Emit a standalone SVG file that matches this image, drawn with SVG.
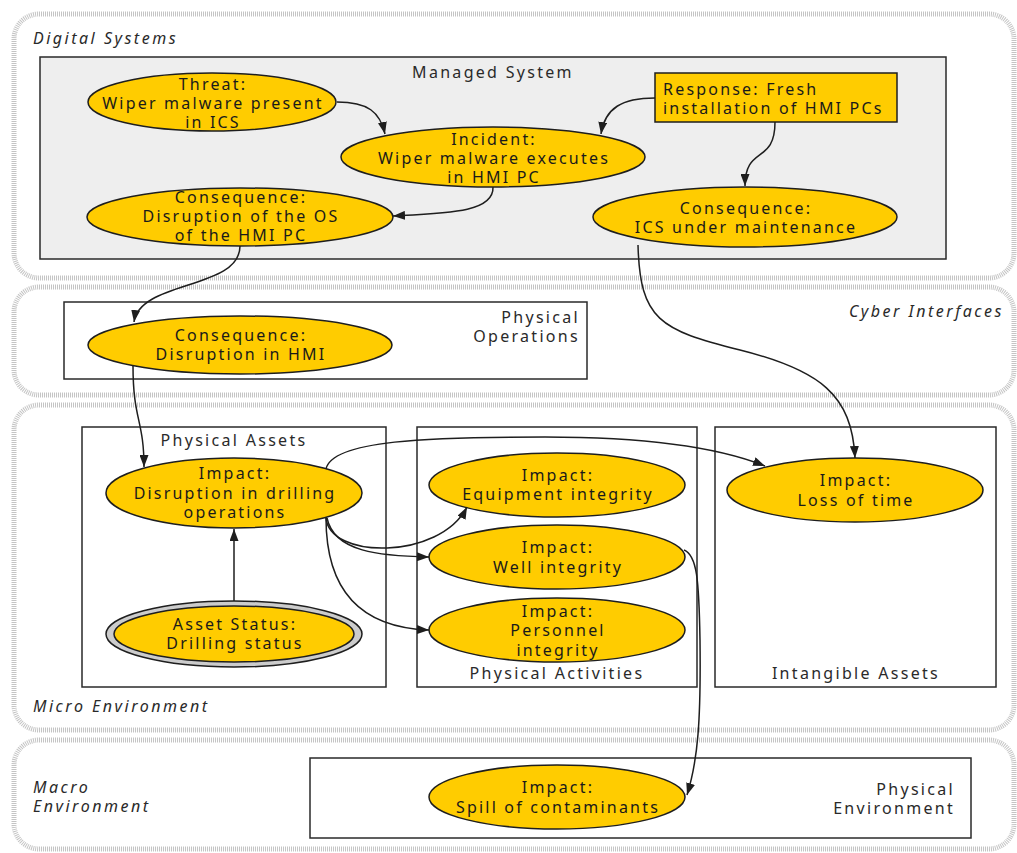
<svg xmlns="http://www.w3.org/2000/svg" width="1017" height="853" viewBox="0 0 1017 853">
<defs>
<marker id="ah" viewBox="0 0 12 9" refX="12" refY="4.5" markerWidth="12" markerHeight="9" markerUnits="userSpaceOnUse" orient="auto">
<path d="M0,0 L12,4.5 L0,9 z" fill="#1e1e1e"/>
</marker>
<style>
.layer{fill:none;stroke:#c4c4c4;stroke-width:5;stroke-dasharray:1 1}
.ll{font-family:"Noto Sans","DejaVu Sans",sans-serif;font-size:16px;font-style:italic;letter-spacing:2.5px;fill:#2a2a2a}
.box{fill:#ffffff;stroke:#2a2a2a;stroke-width:1.5}
.mbox{fill:#eeeeee;stroke:#2a2a2a;stroke-width:1.5}
.bl{font-family:"Noto Sans","DejaVu Sans",sans-serif;font-size:16px;letter-spacing:2.3px;fill:#2a2a2a}
.n{fill:#ffcc00;stroke:#1e1e1e;stroke-width:1.5}
.t{font-family:"Noto Sans","DejaVu Sans",sans-serif;font-size:16px;letter-spacing:2.2px;fill:#1a1a1a;text-anchor:middle}
.ts{font-family:"Noto Sans","DejaVu Sans",sans-serif;font-size:16px;letter-spacing:2.2px;fill:#1a1a1a}
.e{fill:none;stroke:#1e1e1e;stroke-width:1.5;marker-end:url(#ah)}
</style>
</defs>
<rect width="1017" height="853" fill="#ffffff"/>
<g id="layers">
<rect class="layer" x="14" y="14" width="1000" height="264" rx="25"/>
<rect class="layer" x="14" y="287" width="1000" height="108" rx="25"/>
<rect class="layer" x="14" y="405" width="1000" height="325" rx="25"/>
<rect class="layer" x="14" y="740" width="1000" height="109" rx="25"/>
<text class="ll" x="33" y="44">Digital Systems</text>
<text class="ll" x="1004" y="317" text-anchor="end">Cyber Interfaces</text>
<text class="ll" x="33" y="712">Micro Environment</text>
<text class="ll" x="33" y="793">Macro</text>
<text class="ll" x="33" y="812">Environment</text>
</g>
<g id="managed-system">
<rect class="mbox" x="40" y="57" width="906" height="202"/>
<text class="bl" x="493" y="78" text-anchor="middle">Managed System</text>
</g>
<g id="physical-operations">
<rect class="box" x="64" y="302" width="523" height="77"/>
<text class="bl" x="580" y="323" text-anchor="end">Physical</text>
<text class="bl" x="580" y="342" text-anchor="end">Operations</text>
</g>
<g id="physical-assets">
<rect class="box" x="82" y="427" width="304" height="260"/>
<text class="bl" x="234" y="446" text-anchor="middle">Physical Assets</text>
</g>
<g id="physical-activities">
<rect class="box" x="417" y="427" width="280" height="260"/>
<text class="bl" x="557" y="679" text-anchor="middle">Physical Activities</text>
</g>
<g id="intangible-assets">
<rect class="box" x="715" y="427" width="281" height="260"/>
<text class="bl" x="856" y="679" text-anchor="middle">Intangible Assets</text>
</g>
<g id="physical-environment">
<rect class="box" x="310" y="758" width="661" height="80"/>
<text class="bl" x="955" y="795" text-anchor="end">Physical</text>
<text class="bl" x="955" y="814" text-anchor="end">Environment</text>
</g>
<g id="threat">
<ellipse class="n" cx="212" cy="102" rx="124" ry="29"/>
<text class="t" x="213" y="90">Threat:</text>
<text class="t" x="213" y="109">Wiper malware present</text>
<text class="t" x="213" y="128">in ICS</text>
</g>
<g id="incident">
<ellipse class="n" cx="493" cy="157" rx="152" ry="30"/>
<text class="t" x="494" y="145">Incident:</text>
<text class="t" x="494" y="164">Wiper malware executes</text>
<text class="t" x="494" y="183">in HMI PC</text>
</g>
<g id="response">
<rect class="n" x="655" y="73" width="242" height="49"/>
<text class="ts" x="663" y="95">Response: Fresh</text>
<text class="ts" x="663" y="114">installation of HMI PCs</text>
</g>
<g id="consequence-os">
<ellipse class="n" cx="240" cy="217" rx="153" ry="29"/>
<text class="t" x="241" y="203">Consequence:</text>
<text class="t" x="241" y="222">Disruption of the OS</text>
<text class="t" x="241" y="241">of the HMI PC</text>
</g>
<g id="consequence-ics">
<ellipse class="n" cx="745" cy="217" rx="152" ry="30"/>
<text class="t" x="746" y="214">Consequence:</text>
<text class="t" x="746" y="233">ICS under maintenance</text>
</g>
<g id="consequence-hmi">
<ellipse class="n" cx="240" cy="345" rx="152" ry="29"/>
<text class="t" x="241" y="341">Consequence:</text>
<text class="t" x="241" y="360">Disruption in HMI</text>
</g>
<g id="impact-drilling">
<ellipse class="n" cx="234" cy="493" rx="128" ry="35"/>
<text class="t" x="235" y="479">Impact:</text>
<text class="t" x="235" y="499">Disruption in drilling</text>
<text class="t" x="235" y="518">operations</text>
</g>
<g id="asset-status">
<ellipse cx="234" cy="634" rx="128" ry="33" fill="#cccccc" stroke="#1e1e1e" stroke-width="1.5"/>
<ellipse class="n" cx="234" cy="634" rx="120" ry="28"/>
<text class="t" x="235" y="630">Asset Status:</text>
<text class="t" x="235" y="649">Drilling status</text>
</g>
<g id="impact-equipment">
<ellipse class="n" cx="557" cy="485" rx="128" ry="32"/>
<text class="t" x="558" y="481">Impact:</text>
<text class="t" x="558" y="500">Equipment integrity</text>
</g>
<g id="impact-well">
<ellipse class="n" cx="557" cy="557" rx="128" ry="32"/>
<text class="t" x="558" y="553">Impact:</text>
<text class="t" x="558" y="573">Well integrity</text>
</g>
<g id="impact-personnel">
<ellipse class="n" cx="557" cy="630" rx="128" ry="32"/>
<text class="t" x="558" y="617">Impact:</text>
<text class="t" x="558" y="636">Personnel</text>
<text class="t" x="558" y="656">integrity</text>
</g>
<g id="impact-time">
<ellipse class="n" cx="855" cy="490" rx="128" ry="32"/>
<text class="t" x="856" y="486">Impact:</text>
<text class="t" x="856" y="506">Loss of time</text>
</g>
<g id="impact-spill">
<ellipse class="n" cx="557" cy="797" rx="128" ry="32"/>
<text class="t" x="558" y="793">Impact:</text>
<text class="t" x="558" y="813">Spill of contaminants</text>
</g>
<g id="connectors">
<path class="e" d="M337,102 C368,102 380,112 385,134"/>
<path class="e" d="M655,98 C622,98 605,108 601,134"/>
<path class="e" d="M493,187 C494,212 450,213 393,216"/>
<path class="e" d="M775,122 C775,165 745,145 745,186"/>
<path class="e" d="M240,246 C240,290 140,280 134,322"/>
<path class="e" d="M133,366 C133,420 144,420 144,467"/>
<path class="e" d="M638,245 C640,320 660,330 740,350 C820,370 852,395 855,458"/>
<path class="e" d="M326,469 C332,440 430,437 545,437 C650,437 720,448 765,466"/>
<path class="e" d="M326,517 C328,560 440,560 467,507"/>
<path class="e" d="M327,518 C334,552 380,556 429,557"/>
<path class="e" d="M326,518 C326,600 370,628 429,630"/>
<path class="e" d="M234,601 L234,529"/>
<path class="e" d="M684,550 C697,555 699,580 700,640 C701,720 698,760 687,795"/>
</g>
</svg>
